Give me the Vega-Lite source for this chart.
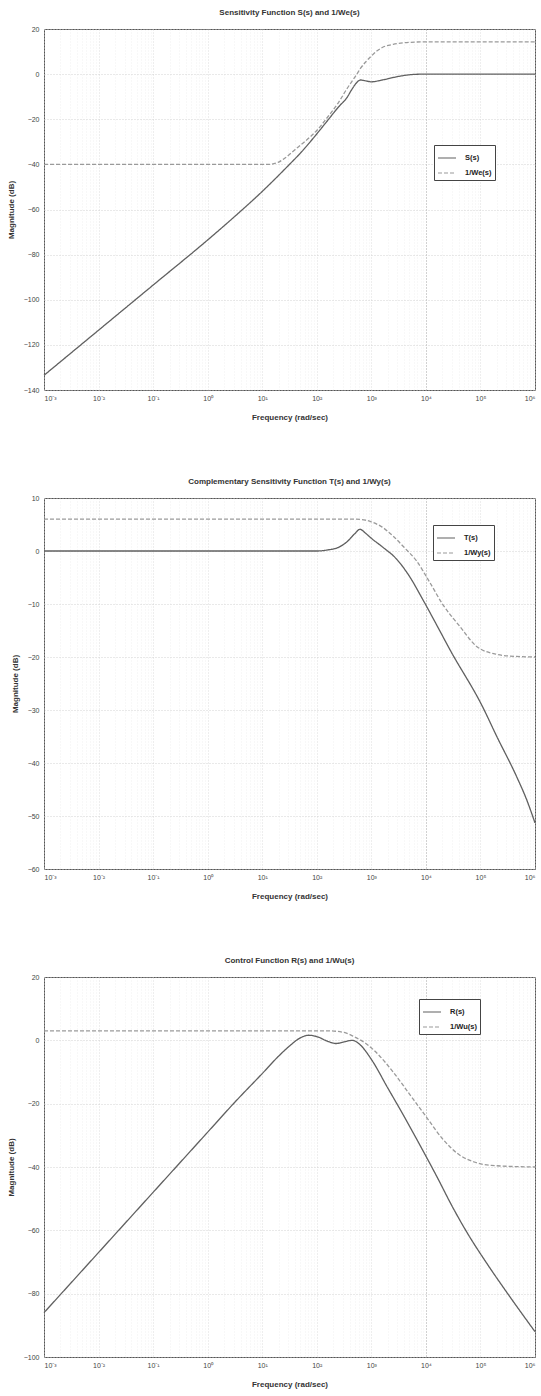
{
  "$schema": "https://vega.github.io/schema/vega-lite/v6.json",
  "background": "white",
  "padding": {"left": 6, "top": 8, "right": 4, "bottom": 4},
  "spacing": 108,
  "bounds": "flush",
  "config": {
    "font": "Liberation Sans",
    "view": {"stroke": "#555", "strokeWidth": 1},
    "axis": {"labelFont": "Liberation Sans", "labelFontSize": 7, "labelColor": "#444", "titleFont": "Liberation Sans", "titleFontSize": 8, "titleFontWeight": "bold", "titleColor": "#333", "domain": false, "ticks": false, "gridDash": [1, 2], "gridWidth": 0.8, "gridColor": "#c8c8c8"},
    "axisY": {"labelPadding": 5, "titlePadding": 8},
    "axisX": {"labelPadding": 4, "titlePadding": 12},
    "title": {"font": "Liberation Sans", "fontSize": 8, "fontWeight": "bold", "color": "#333", "offset": 8, "anchor": "middle", "frame": "group"},
    "legend": {"orient": "none", "title": null, "strokeColor": "#444", "fillColor": "white", "padding": 3, "symbolType": "stroke", "symbolSize": 324, "symbolStrokeWidth": 1.2, "labelFont": "Liberation Sans", "labelFontSize": 7.5, "labelFontWeight": "bold", "labelColor": "#222", "rowPadding": 1, "labelOffset": 8}
  },
  "resolve": {"scale": {"x": "independent", "y": "independent", "color": "independent", "strokeDash": "independent"}, "legend": {"color": "independent", "strokeDash": "independent"}},
  "datasets": {
    "p1": [
      {"series": "S(s)", "w": 0.001, "db": -133.5},
      {"series": "S(s)", "w": 0.01, "db": -113.5},
      {"series": "S(s)", "w": 0.1, "db": -93.5},
      {"series": "S(s)", "w": 1, "db": -73.5},
      {"series": "S(s)", "w": 3.162, "db": -63},
      {"series": "S(s)", "w": 10, "db": -52},
      {"series": "S(s)", "w": 31.62, "db": -40},
      {"series": "S(s)", "w": 50.12, "db": -35},
      {"series": "S(s)", "w": 100, "db": -26.5},
      {"series": "S(s)", "w": 158.5, "db": -20.5},
      {"series": "S(s)", "w": 251.2, "db": -14.5},
      {"series": "S(s)", "w": 354.8, "db": -10.5},
      {"series": "S(s)", "w": 446.7, "db": -6.5},
      {"series": "S(s)", "w": 537, "db": -3.8},
      {"series": "S(s)", "w": 631, "db": -2.6},
      {"series": "S(s)", "w": 794.3, "db": -3.0},
      {"series": "S(s)", "w": 1000, "db": -3.4},
      {"series": "S(s)", "w": 1585, "db": -2.6},
      {"series": "S(s)", "w": 2512, "db": -1.5},
      {"series": "S(s)", "w": 3981, "db": -0.6},
      {"series": "S(s)", "w": 6310, "db": -0.1},
      {"series": "S(s)", "w": 10000, "db": 0},
      {"series": "S(s)", "w": 100000, "db": 0},
      {"series": "S(s)", "w": 1000000, "db": 0},
      {"series": "1/We(s)", "w": 0.001, "db": -40},
      {"series": "1/We(s)", "w": 12.59, "db": -40},
      {"series": "1/We(s)", "w": 19.95, "db": -39},
      {"series": "1/We(s)", "w": 25.12, "db": -37.5},
      {"series": "1/We(s)", "w": 39.81, "db": -33.5},
      {"series": "1/We(s)", "w": 63.1, "db": -29.5},
      {"series": "1/We(s)", "w": 100, "db": -25},
      {"series": "1/We(s)", "w": 158.5, "db": -19},
      {"series": "1/We(s)", "w": 251.2, "db": -12.5},
      {"series": "1/We(s)", "w": 354.8, "db": -6.6},
      {"series": "1/We(s)", "w": 446.7, "db": -3},
      {"series": "1/We(s)", "w": 537, "db": -0.2},
      {"series": "1/We(s)", "w": 631, "db": 2.5},
      {"series": "1/We(s)", "w": 794.3, "db": 5.5},
      {"series": "1/We(s)", "w": 1000, "db": 8},
      {"series": "1/We(s)", "w": 1259, "db": 10.2},
      {"series": "1/We(s)", "w": 1585, "db": 11.8},
      {"series": "1/We(s)", "w": 2512, "db": 13.2},
      {"series": "1/We(s)", "w": 3981, "db": 13.9},
      {"series": "1/We(s)", "w": 6310, "db": 14.2},
      {"series": "1/We(s)", "w": 10000, "db": 14.3},
      {"series": "1/We(s)", "w": 1000000, "db": 14.3}
    ],
    "p2": [
      {"series": "T(s)", "w": 0.001, "db": 0},
      {"series": "T(s)", "w": 100, "db": 0},
      {"series": "T(s)", "w": 158.5, "db": 0.2},
      {"series": "T(s)", "w": 251.2, "db": 0.7},
      {"series": "T(s)", "w": 354.8, "db": 1.7},
      {"series": "T(s)", "w": 501.2, "db": 3.3},
      {"series": "T(s)", "w": 616.6, "db": 4.1},
      {"series": "T(s)", "w": 794.3, "db": 3.3},
      {"series": "T(s)", "w": 1000, "db": 2.4},
      {"series": "T(s)", "w": 1585, "db": 0.8},
      {"series": "T(s)", "w": 2884, "db": -1.5},
      {"series": "T(s)", "w": 5012, "db": -4.8},
      {"series": "T(s)", "w": 8710, "db": -9.1},
      {"series": "T(s)", "w": 15850, "db": -14},
      {"series": "T(s)", "w": 27540, "db": -18.6},
      {"series": "T(s)", "w": 109600, "db": -29.4},
      {"series": "T(s)", "w": 199500, "db": -35},
      {"series": "T(s)", "w": 457100, "db": -42.5},
      {"series": "T(s)", "w": 707900, "db": -47},
      {"series": "T(s)", "w": 1000000, "db": -51.3},
      {"series": "1/Wy(s)", "w": 0.001, "db": 6},
      {"series": "1/Wy(s)", "w": 501.2, "db": 6},
      {"series": "1/Wy(s)", "w": 794.3, "db": 5.8},
      {"series": "1/Wy(s)", "w": 1000, "db": 5.5},
      {"series": "1/Wy(s)", "w": 1585, "db": 4.5},
      {"series": "1/Wy(s)", "w": 2512, "db": 2.8},
      {"series": "1/Wy(s)", "w": 3981, "db": 0.7},
      {"series": "1/Wy(s)", "w": 6761, "db": -1.9},
      {"series": "1/Wy(s)", "w": 11750, "db": -5.9},
      {"series": "1/Wy(s)", "w": 20420, "db": -10.1},
      {"series": "1/Wy(s)", "w": 41690, "db": -14.2},
      {"series": "1/Wy(s)", "w": 85110, "db": -18},
      {"series": "1/Wy(s)", "w": 199500, "db": -19.5},
      {"series": "1/Wy(s)", "w": 457100, "db": -19.9},
      {"series": "1/Wy(s)", "w": 1000000, "db": -20}
    ],
    "p3": [
      {"series": "R(s)", "w": 0.001, "db": -86},
      {"series": "R(s)", "w": 0.01, "db": -67},
      {"series": "R(s)", "w": 0.1, "db": -48},
      {"series": "R(s)", "w": 1, "db": -29},
      {"series": "R(s)", "w": 3.162, "db": -19.5},
      {"series": "R(s)", "w": 10, "db": -10.5},
      {"series": "R(s)", "w": 19.95, "db": -5},
      {"series": "R(s)", "w": 31.62, "db": -1.8},
      {"series": "R(s)", "w": 50.12, "db": 0.8},
      {"series": "R(s)", "w": 70.79, "db": 1.6},
      {"series": "R(s)", "w": 100, "db": 1.2},
      {"series": "R(s)", "w": 158.5, "db": -0.3},
      {"series": "R(s)", "w": 223.9, "db": -1},
      {"series": "R(s)", "w": 316.2, "db": -0.5},
      {"series": "R(s)", "w": 446.7, "db": 0},
      {"series": "R(s)", "w": 631, "db": -1.5},
      {"series": "R(s)", "w": 1000, "db": -6},
      {"series": "R(s)", "w": 1995, "db": -15},
      {"series": "R(s)", "w": 3981, "db": -24},
      {"series": "R(s)", "w": 7079, "db": -31.8},
      {"series": "R(s)", "w": 15850, "db": -43},
      {"series": "R(s)", "w": 31620, "db": -53},
      {"series": "R(s)", "w": 63100, "db": -62},
      {"series": "R(s)", "w": 125900, "db": -70},
      {"series": "R(s)", "w": 316200, "db": -80},
      {"series": "R(s)", "w": 1000000, "db": -92},
      {"series": "1/Wu(s)", "w": 0.001, "db": 3},
      {"series": "1/Wu(s)", "w": 158.5, "db": 3},
      {"series": "1/Wu(s)", "w": 316.2, "db": 2.5},
      {"series": "1/Wu(s)", "w": 501.2, "db": 1},
      {"series": "1/Wu(s)", "w": 794.3, "db": -1},
      {"series": "1/Wu(s)", "w": 1259, "db": -4},
      {"series": "1/Wu(s)", "w": 2512, "db": -10},
      {"series": "1/Wu(s)", "w": 5012, "db": -17},
      {"series": "1/Wu(s)", "w": 10000, "db": -24},
      {"series": "1/Wu(s)", "w": 19950, "db": -31},
      {"series": "1/Wu(s)", "w": 39810, "db": -36},
      {"series": "1/Wu(s)", "w": 79430, "db": -38.5},
      {"series": "1/Wu(s)", "w": 158500, "db": -39.5},
      {"series": "1/Wu(s)", "w": 1000000, "db": -40}
    ]
  },
  "vconcat": [
    {
      "width": 491, "height": 361,
      "title": {"text": "Sensitivity Function S(s) and 1/We(s)"},
      "data": {"name": "p1"},
      "mark": {"type": "line", "strokeWidth": 1.3, "interpolate": "monotone"},
      "encoding": {
        "x": {"field": "w", "type": "quantitative", "scale": {"type": "log", "domain": [0.001, 1000000], "nice": false},
          "axis": {"title": "Frequency (rad/sec)",
            "values": [0.001,0.002,0.003,0.004,0.005,0.006,0.007,0.008,0.009,0.01,0.02,0.03,0.04,0.05,0.06,0.07,0.08,0.09,0.1,0.2,0.3,0.4,0.5,0.6,0.7,0.8,0.9,1,2,3,4,5,6,7,8,9,10,20,30,40,50,60,70,80,90,100,200,300,400,500,600,700,800,900,1000,2000,3000,4000,5000,6000,7000,8000,9000,10000,20000,30000,40000,50000,60000,70000,80000,90000,100000,200000,300000,400000,500000,600000,700000,800000,900000,1000000],
            "labelExpr": "datum.value == 0.001 ? '10⁻³' : datum.value == 0.01 ? '10⁻²' : datum.value == 0.1 ? '10⁻¹' : datum.value == 1 ? '10⁰' : datum.value == 10 ? '10¹' : datum.value == 100 ? '10²' : datum.value == 1000 ? '10³' : datum.value == 10000 ? '10⁴' : datum.value == 100000 ? '10⁵' : datum.value == 1000000 ? '10⁶' : ''",
            "gridColor": {"condition": {"test": "datum.value == 10000", "value": "#8a8a8a"}, "value": "#d4d4d4"},
            "gridOpacity": {"condition": {"test": "indexof([0.001,0.01,0.1,1,10,100,1000,10000,100000,1000000], datum.value) >= 0", "value": 1}, "value": 0.45},
            "labelOverlap": false}},
        "y": {"field": "db", "type": "quantitative", "scale": {"domain": [-140, 20], "nice": false},
          "axis": {"title": "Magnitude (dB)", "values": [-140, -120, -100, -80, -60, -40, -20, 0, 20]}},
        "color": {"field": "series", "type": "nominal", "scale": {"domain": ["S(s)", "1/We(s)"], "range": ["#606060", "#9a9a9a"]},
          "legend": {"legendX": 390, "legendY": 116}},
        "strokeDash": {"field": "series", "type": "nominal", "scale": {"domain": ["S(s)", "1/We(s)"], "range": [[1, 0], [4, 2]]},
          "legend": {"legendX": 390, "legendY": 116}}
      }
    },
    {
      "width": 491, "height": 371,
      "title": {"text": "Complementary Sensitivity Function T(s) and 1/Wy(s)"},
      "data": {"name": "p2"},
      "mark": {"type": "line", "strokeWidth": 1.3, "interpolate": "monotone"},
      "encoding": {
        "x": {"field": "w", "type": "quantitative", "scale": {"type": "log", "domain": [0.001, 1000000], "nice": false},
          "axis": {"title": "Frequency (rad/sec)",
            "values": [0.001,0.002,0.003,0.004,0.005,0.006,0.007,0.008,0.009,0.01,0.02,0.03,0.04,0.05,0.06,0.07,0.08,0.09,0.1,0.2,0.3,0.4,0.5,0.6,0.7,0.8,0.9,1,2,3,4,5,6,7,8,9,10,20,30,40,50,60,70,80,90,100,200,300,400,500,600,700,800,900,1000,2000,3000,4000,5000,6000,7000,8000,9000,10000,20000,30000,40000,50000,60000,70000,80000,90000,100000,200000,300000,400000,500000,600000,700000,800000,900000,1000000],
            "labelExpr": "datum.value == 0.001 ? '10⁻³' : datum.value == 0.01 ? '10⁻²' : datum.value == 0.1 ? '10⁻¹' : datum.value == 1 ? '10⁰' : datum.value == 10 ? '10¹' : datum.value == 100 ? '10²' : datum.value == 1000 ? '10³' : datum.value == 10000 ? '10⁴' : datum.value == 100000 ? '10⁵' : datum.value == 1000000 ? '10⁶' : ''",
            "gridColor": {"condition": {"test": "datum.value == 10000", "value": "#8a8a8a"}, "value": "#d4d4d4"},
            "gridOpacity": {"condition": {"test": "indexof([0.001,0.01,0.1,1,10,100,1000,10000,100000,1000000], datum.value) >= 0", "value": 1}, "value": 0.45},
            "labelOverlap": false}},
        "y": {"field": "db", "type": "quantitative", "scale": {"domain": [-60, 10], "nice": false},
          "axis": {"title": "Magnitude (dB)", "values": [-60, -50, -40, -30, -20, -10, 0, 10]}},
        "color": {"field": "series", "type": "nominal", "scale": {"domain": ["T(s)", "1/Wy(s)"], "range": ["#606060", "#9a9a9a"]},
          "legend": {"legendX": 389, "legendY": 27}},
        "strokeDash": {"field": "series", "type": "nominal", "scale": {"domain": ["T(s)", "1/Wy(s)"], "range": [[1, 0], [4, 2]]},
          "legend": {"legendX": 389, "legendY": 27}}
      }
    },
    {
      "width": 491, "height": 380,
      "title": {"text": "Control Function R(s) and 1/Wu(s)"},
      "data": {"name": "p3"},
      "mark": {"type": "line", "strokeWidth": 1.3, "interpolate": "monotone"},
      "encoding": {
        "x": {"field": "w", "type": "quantitative", "scale": {"type": "log", "domain": [0.001, 1000000], "nice": false},
          "axis": {"title": "Frequency (rad/sec)",
            "values": [0.001,0.002,0.003,0.004,0.005,0.006,0.007,0.008,0.009,0.01,0.02,0.03,0.04,0.05,0.06,0.07,0.08,0.09,0.1,0.2,0.3,0.4,0.5,0.6,0.7,0.8,0.9,1,2,3,4,5,6,7,8,9,10,20,30,40,50,60,70,80,90,100,200,300,400,500,600,700,800,900,1000,2000,3000,4000,5000,6000,7000,8000,9000,10000,20000,30000,40000,50000,60000,70000,80000,90000,100000,200000,300000,400000,500000,600000,700000,800000,900000,1000000],
            "labelExpr": "datum.value == 0.001 ? '10⁻³' : datum.value == 0.01 ? '10⁻²' : datum.value == 0.1 ? '10⁻¹' : datum.value == 1 ? '10⁰' : datum.value == 10 ? '10¹' : datum.value == 100 ? '10²' : datum.value == 1000 ? '10³' : datum.value == 10000 ? '10⁴' : datum.value == 100000 ? '10⁵' : datum.value == 1000000 ? '10⁶' : ''",
            "gridColor": {"condition": {"test": "datum.value == 10000", "value": "#8a8a8a"}, "value": "#d4d4d4"},
            "gridOpacity": {"condition": {"test": "indexof([0.001,0.01,0.1,1,10,100,1000,10000,100000,1000000], datum.value) >= 0", "value": 1}, "value": 0.45},
            "labelOverlap": false}},
        "y": {"field": "db", "type": "quantitative", "scale": {"domain": [-100, 20], "nice": false},
          "axis": {"title": "Magnitude (dB)", "values": [-100, -80, -60, -40, -20, 0, 20]}},
        "color": {"field": "series", "type": "nominal", "scale": {"domain": ["R(s)", "1/Wu(s)"], "range": ["#606060", "#9a9a9a"]},
          "legend": {"legendX": 375, "legendY": 22}},
        "strokeDash": {"field": "series", "type": "nominal", "scale": {"domain": ["R(s)", "1/Wu(s)"], "range": [[1, 0], [4, 2]]},
          "legend": {"legendX": 375, "legendY": 22}}
      }
    }
  ]
}
